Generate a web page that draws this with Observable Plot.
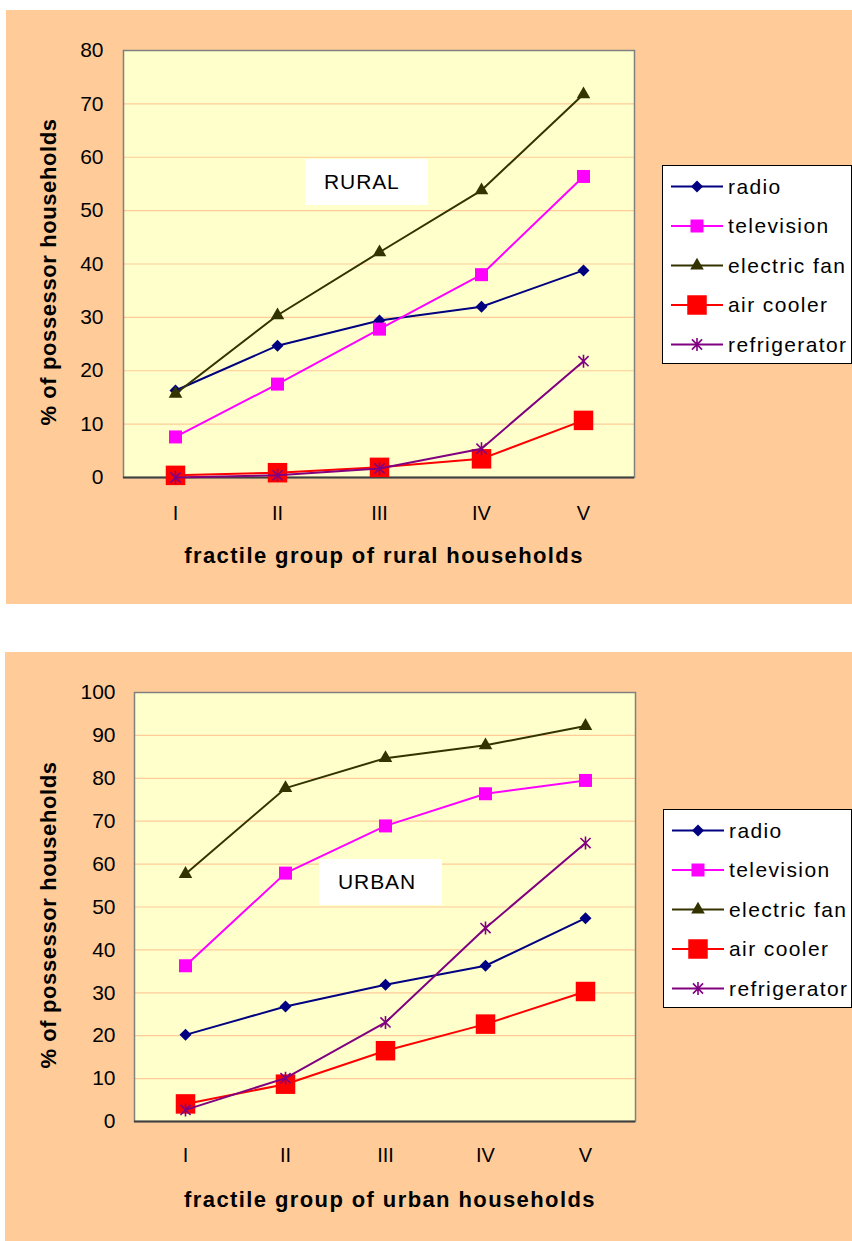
<!DOCTYPE html>
<html><head><meta charset="utf-8">
<script src="https://cdn.jsdelivr.net/npm/d3@7"></script>
<script src="https://cdn.jsdelivr.net/npm/@observablehq/plot@0.6"></script>
<style>
body{margin:0;background:#fff;width:852px;height:1241px;position:relative;overflow:hidden;font-family:"Liberation Sans",Arial,sans-serif;}
.panel{position:absolute;background:#FFCC99;}
.legend{position:absolute;background:#fff;border:1px solid #000;box-sizing:border-box;}
.note{position:absolute;background:#fff;font-size:21px;letter-spacing:0.9px;color:#000;line-height:46px;box-sizing:border-box;padding-left:19px;}
svg{overflow:visible;}
</style></head><body>
<div id="rural" class="panel" style="left:6px;top:10px;width:846px;height:594px"></div>
<div id="urban" class="panel" style="left:5px;top:652px;width:847px;height:589px"></div>
<div class="note" style="left:305px;top:159px;width:123px;height:46px">RURAL</div>
<div class="note" style="left:319px;top:859px;width:123px;height:46px">URBAN</div>
<div id="legR" class="legend" style="left:662px;top:165px;width:190px;height:199px"></div>
<div id="legU" class="legend" style="left:663px;top:809px;width:189px;height:199px"></div>
<script>
// ---- data ----
const groups = ["I", "II", "III", "IV", "V"];
const seriesNames = ["radio", "television", "electric fan", "air cooler", "refrigerator"];

const ruralRadio        = [16.3, 24.7, 29.4, 32.0, 38.8];
const ruralTelevision   = [7.6, 17.5, 27.8, 38.0, 56.4];
const ruralElectricFan  = [15.7, 30.4, 42.2, 53.8, 71.8];
const ruralAirCooler    = [0.4, 0.9, 1.9, 3.5, 10.7];
const ruralRefrigerator = [0.0, 0.4, 1.7, 5.4, 21.8];

const urbanRadio        = [20.2, 26.8, 31.9, 36.3, 47.4];
const urbanTelevision   = [36.3, 57.9, 68.9, 76.4, 79.5];
const urbanElectricFan  = [57.7, 77.7, 84.7, 87.7, 92.2];
const urbanAirCooler    = [4.1, 8.7, 16.5, 22.7, 30.3];
const urbanRefrigerator = [2.7, 10.1, 23.1, 45.1, 64.9];

const ruralTicks = [0, 10, 20, 30, 40, 50, 60, 70, 80];
const urbanTicks = [0, 10, 20, 30, 40, 50, 60, 70, 80, 90, 100];

const yTitle = "% of possessor households";
const ruralXTitle = "fractile group of rural households";
const urbanXTitle = "fractile group of urban households";

// ---- styles ----
const diamondSym = {draw(ctx, size) { const h = Math.sqrt(size / 2); ctx.moveTo(0, -h); ctx.lineTo(h, 0); ctx.lineTo(0, h); ctx.lineTo(-h, 0); ctx.closePath(); }};
const squareSym = {draw(ctx, size) { const h = Math.sqrt(size) / 2; ctx.rect(-h, -h, 2 * h, 2 * h); }};
const triSym = d3.symbolTriangle;
const starSym = {draw(ctx, size) { const h = Math.sqrt(size) / 2; const d = h * 0.78;
  ctx.moveTo(0, -h); ctx.lineTo(0, h); ctx.moveTo(-d, -d); ctx.lineTo(d, d); ctx.moveTo(-d, d); ctx.lineTo(d, -d); }};
const seriesStyle = {
  "radio":        {color: "#000080", symbol: diamondSym, side: 12, filled: true},
  "television":   {color: "#FF00FF", symbol: squareSym, side: 13, filled: true},
  "electric fan": {color: "#333300", symbol: triSym, side: 0, area: 80, filled: true},
  "air cooler":   {color: "#FF0000", symbol: squareSym, side: 19.5, filled: true},
  "refrigerator": {color: "#800080", symbol: starSym, side: 13, filled: false}
};
function symArea(s) {
  if (s.area) return s.area;
  if (s.symbol === diamondSym) return 2 * (s.side / 2) ** 2;
  return s.side * s.side;
}

function buildRows(arrays) {
  const rows = [];
  seriesNames.forEach((name, i) => groups.forEach((g, j) => rows.push({series: name, group: g, value: arrays[i][j]})));
  return rows;
}

function makeChart(rows, o) {
  const font = '"Liberation Sans", Arial, sans-serif';
  const marks = [
    Plot.frame({fill: "#FFFFCC"}),
    Plot.gridY(o.ticks, {stroke: "#FFCC99", strokeOpacity: 1, strokeWidth: 1.2}),
    Plot.frame({stroke: "#808080", strokeWidth: 1.5}),
    Plot.ruleY([0], {stroke: "#404040", strokeWidth: 2}),
    Plot.axisY(o.ticks, {tickSize: 0, tickPadding: o.yPad, fontSize: 21, label: null}),
    Plot.axisX(groups, {tickSize: 0, tickPadding: o.xPad, fontSize: 20, label: null}),
    Plot.text([yTitle], {text: d => d, frameAnchor: "left", rotate: -90, dx: o.yTitleDx, dy: 8, fontWeight: "bold", fontSize: 22, textAnchor: "middle", lineAnchor: "middle"}),
    Plot.text([o.xTitle], {text: d => d, frameAnchor: "bottom", dx: 5, dy: 78, fontWeight: "bold", fontSize: 22, textAnchor: "middle", lineAnchor: "middle"})
  ];
  seriesNames.forEach(name => {
    const s = seriesStyle[name];
    const data = rows.filter(r => r.series === name);
    marks.push(Plot.line(data, {x: "group", y: "value", stroke: s.color, strokeWidth: 2}));
    const r = Math.sqrt(symArea(s) / Math.PI);
    marks.push(Plot.dot(data, s.filled
      ? {x: "group", y: "value", symbol: s.symbol, r, fill: s.color, stroke: "none"}
      : {x: "group", y: "value", symbol: s.symbol, r, fill: "none", stroke: s.color, strokeWidth: 1.6}));
  });
  const svg = Plot.plot({
    width: o.width, height: o.height,
    marginLeft: o.ml, marginRight: o.mr, marginTop: o.mt, marginBottom: o.mb,
    style: {background: "transparent", fontFamily: font, fontSize: "20px", color: "#000", overflow: "visible"},
    x: {type: "point", domain: groups, padding: 0.5},
    y: {domain: [0, o.ymax]},
    marks
  });
  d3.select(svg).selectAll("text").each(function() {
    const t = this.textContent;
    if (t === yTitle) this.setAttribute("letter-spacing", "0.6");
    else if (t === o.xTitle) this.setAttribute("letter-spacing", "1.4");
  });
  return svg;
}

document.getElementById("rural").appendChild(makeChart(
  buildRows([ruralRadio, ruralTelevision, ruralElectricFan, ruralAirCooler, ruralRefrigerator]),
  {width: 846, height: 594, ml: 117, mr: 218, mt: 40, mb: 127, ymax: 80, ticks: ruralTicks, yPad: 20, xPad: 28, yTitleDx: -75, xTitle: ruralXTitle}
));
document.getElementById("urban").appendChild(makeChart(
  buildRows([urbanRadio, urbanTelevision, urbanElectricFan, urbanAirCooler, urbanRefrigerator]),
  {width: 847, height: 589, ml: 129, mr: 217, mt: 40, mb: 120, ymax: 100, ticks: urbanTicks, yPad: 19, xPad: 26, yTitleDx: -86, xTitle: urbanXTitle}
));

// ---- legends ----
function makeLegend(id) {
  const el = document.getElementById(id);
  const svg = d3.select(el).append("svg").attr("width", 190).attr("height", 199)
    .style("position", "absolute").style("left", "-1px").style("top", "-1px");
  seriesNames.forEach((name, i) => {
    const s = seriesStyle[name];
    const y = 21.5 + 39.5 * i;
    svg.append("line").attr("x1", 9).attr("x2", 61).attr("y1", y).attr("y2", y).attr("stroke", s.color).attr("stroke-width", 2);
    const p = d3.symbol(s.symbol, symArea(s))();
    svg.append("path").attr("d", p).attr("transform", `translate(35,${y})`)
      .attr("fill", s.filled ? s.color : "none").attr("stroke", s.filled ? "none" : s.color).attr("stroke-width", 1.6);
    svg.append("text").attr("x", 66).attr("y", y).attr("dy", "0.35em").attr("font-size", 21).attr("letter-spacing", 1.4)
      .attr("font-family", '"Liberation Sans", Arial, sans-serif').attr("fill", "#000").text(name);
  });
}
makeLegend("legR");
makeLegend("legU");
</script>
</body></html>
